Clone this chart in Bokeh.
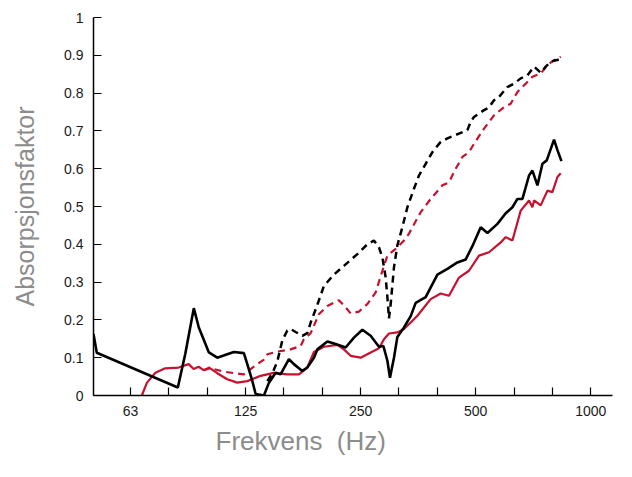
from bokeh.plotting import figure
from bokeh.models import Range1d, FixedTicker, CustomJSTickFormatter, Title
from bokeh.embed import file_html
from bokeh.resources import INLINE

# ---- data (frequency in Hz, absorption factor) ----
black_solid_hz = [50.0, 51.0, 83.1, 86.9, 91.5, 94.3, 100.2, 105.4, 111.9, 116.5, 123.7, 126.3,
                  130.2, 132.8, 139.6, 143.9, 149.8, 154.3, 162.3, 167.2, 175.9, 181.3, 188.7,
                  192.6, 204.6, 215.0, 228.4, 240.1, 252.6, 265.5, 279.2, 286.7, 293.7, 298.3,
                  305.6, 311.9, 324.6, 338.0, 348.3, 369.9, 397.0, 421.6, 447.8, 470.8, 490.1,
                  515.3, 536.6, 569.9, 599.1, 623.8, 642.9, 662.6, 689.5, 703.7, 725.3, 747.5,
                  767.1, 801.6, 818.2, 838.2]
black_solid_abs = [0.163, 0.113, 0.021, 0.11, 0.231, 0.18, 0.114, 0.10, 0.109, 0.115, 0.112, 0.083,
                   0.038, 0.004, 0.0, 0.034, 0.06, 0.056, 0.096, 0.083, 0.065, 0.074, 0.10,
                   0.122, 0.143, 0.136, 0.127, 0.153, 0.174, 0.158, 0.129, 0.131, 0.092, 0.047,
                   0.10, 0.155, 0.18, 0.21, 0.245, 0.26, 0.32, 0.335, 0.352, 0.36, 0.395,
                   0.445, 0.43, 0.454, 0.482, 0.498, 0.52, 0.52, 0.582, 0.595, 0.556, 0.613,
                   0.622, 0.677, 0.649, 0.62]

red_solid_hz = [66.9, 69.0, 72.6, 77.0, 83.5, 88.7, 91.4, 94.2, 97.1, 101.0, 105.4, 111.9, 118.9,
                126.3, 136.8, 148.2, 160.7, 172.4, 181.3, 188.7, 200.4, 217.2, 226.0, 235.4,
                250.0, 265.5, 279.2, 287.7, 296.5, 311.9, 324.6, 338.0, 351.9, 381.2, 404.9,
                425.7, 452.1, 480.2, 510.0, 541.7, 581.4, 599.1, 623.8, 655.7, 689.5, 703.7,
                710.6, 739.7, 770.3, 793.8, 818.2, 834.6]
red_solid_abs = [0.0, 0.034, 0.06, 0.072, 0.074, 0.083, 0.07, 0.076, 0.067, 0.072, 0.059, 0.043, 0.034,
                 0.038, 0.052, 0.06, 0.056, 0.056, 0.074, 0.115, 0.129, 0.134, 0.122, 0.105,
                 0.10, 0.114, 0.125, 0.149, 0.164, 0.167, 0.176, 0.193, 0.211, 0.255, 0.27,
                 0.264, 0.312, 0.33, 0.37, 0.379, 0.405, 0.419, 0.41, 0.489, 0.516, 0.498,
                 0.516, 0.503, 0.542, 0.538, 0.578, 0.588]

black_dash_hz = [142.5, 147.1, 151.3, 155.9, 160.7, 163.9, 169.0, 175.9, 181.3, 185.0, 192.6, 200.4,
                 212.8, 226.0, 245.1, 260.3, 270.9, 279.2, 285.0, 290.7, 293.7, 296.5, 299.6,
                 305.6, 311.9, 321.4, 331.3, 344.7, 355.3, 369.9, 385.2, 404.9, 421.6, 452.1,
                 475.6, 485.2, 494.9, 525.7, 541.7, 558.3, 575.4, 605.2, 629.8, 655.7, 682.9,
                 710.6, 739.7, 762.5, 785.8, 809.9, 834.6]
black_dash_abs = [0.038, 0.06, 0.09, 0.145, 0.172, 0.176, 0.168, 0.158, 0.165, 0.193, 0.24, 0.29,
                  0.32, 0.343, 0.374, 0.40, 0.41, 0.392, 0.365, 0.312, 0.26, 0.204, 0.242,
                  0.339, 0.397, 0.445, 0.498, 0.547, 0.582, 0.613, 0.644, 0.671, 0.68, 0.693,
                  0.702, 0.724, 0.737, 0.755, 0.762, 0.781, 0.79, 0.816, 0.825, 0.839, 0.847,
                  0.87, 0.854, 0.87, 0.883, 0.887, 0.889]

red_dash_hz = [97.1, 101.0, 103.3, 109.7, 118.9, 123.7, 128.8, 134.1, 139.6, 142.5, 151.3, 163.9,
               174.1, 177.6, 185.0, 194.4, 204.6, 219.3, 228.4, 235.4, 247.4, 260.3, 273.7,
               285.0, 293.7, 308.7, 324.6, 334.5, 341.4, 359.0, 381.2, 409.1, 425.7, 443.2,
               461.5, 480.2, 494.9, 525.7, 558.3, 593.1, 617.4, 642.9, 675.9, 703.7, 739.7,
               770.3, 801.6, 834.6]
red_dash_abs = [0.067, 0.075, 0.07, 0.063, 0.058, 0.056, 0.07, 0.083, 0.095, 0.109, 0.116, 0.122,
                0.131, 0.149, 0.165, 0.215, 0.237, 0.252, 0.233, 0.217, 0.222, 0.242, 0.273,
                0.33, 0.37, 0.388, 0.41, 0.428, 0.445, 0.485, 0.52, 0.556, 0.564, 0.60,
                0.631, 0.644, 0.666, 0.706, 0.741, 0.763, 0.772, 0.803, 0.825, 0.843, 0.852,
                0.874, 0.887, 0.896]

x_tick_labels = {"62.5": "63", "125": "125", "250": "250", "500": "500", "1000": "1000"}
y_ticks = [0, 0.1, 0.2, 0.3, 0.4, 0.5, 0.6, 0.7, 0.8, 0.9, 1.0]
x_title = "Frekvens\u00a0\u00a0(Hz)"
y_title = "Absorpsjonsfaktor"

RED = "#c8102e"
FONT = "Liberation Sans"

p = figure(width=616, height=461, x_axis_type="log",
           x_range=Range1d(50, 1140), y_range=Range1d(0, 1),
           output_backend="svg", toolbar_location=None,
           min_border_left=93, min_border_right=4, min_border_top=17, min_border_bottom=66)
p.outline_line_color = None
p.grid.visible = False
p.background_fill_color = "white"

# third-octave ticks
x_ticks = [1000 * 2 ** (-k / 3) for k in range(12, -1, -1)]
p.xaxis.ticker = FixedTicker(ticks=x_ticks, minor_ticks=[])
p.xaxis.formatter = CustomJSTickFormatter(
    args=dict(m=x_tick_labels),
    code="const k = String(Math.round(tick*10)/10); return (k in m) ? m[k] : '';")
p.yaxis.ticker = FixedTicker(ticks=y_ticks, minor_ticks=[])
p.yaxis.formatter = CustomJSTickFormatter(
    code="if (Math.abs(tick) < 1e-9) return '0'; if (Math.abs(tick-1) < 1e-9) return '1'; return tick.toFixed(1);")

for ax in (p.xaxis[0], p.yaxis[0]):
    ax.axis_line_color = "black"
    ax.axis_line_width = 1.5
    ax.major_tick_line_color = "black"
    ax.major_tick_line_width = 1.2
    ax.major_tick_in = 8
    ax.major_tick_out = 0
    ax.minor_tick_line_color = None
    ax.major_label_text_font = FONT
    ax.major_label_text_font_size = "14px"
    ax.major_label_text_color = "#1a1a1a"
    ax.major_label_standoff = 10

p.yaxis.axis_label = y_title
p.yaxis.axis_label_text_font = FONT
p.yaxis.axis_label_text_font_size = "25px"
p.yaxis.axis_label_text_font_style = "normal"
p.yaxis.axis_label_text_color = "#8c8c8c"
p.yaxis.axis_label_standoff = 22

p.add_layout(Title(text=x_title, align="left", offset=122,
                   text_font=FONT, text_font_size="26px", text_font_style="normal",
                   text_color="#8c8c8c", standoff=10), "below")

p.line(red_solid_hz, red_solid_abs, line_color=RED, line_width=2.2)
p.line(red_dash_hz, red_dash_abs, line_color=RED, line_width=2.2, line_dash="7 5")
p.line(black_dash_hz, black_dash_abs, line_color="black", line_width=2.5, line_dash="7 5")
p.line(black_solid_hz, black_solid_abs, line_color="black", line_width=2.6)

open("out.html", "w").write(file_html(p, INLINE))
